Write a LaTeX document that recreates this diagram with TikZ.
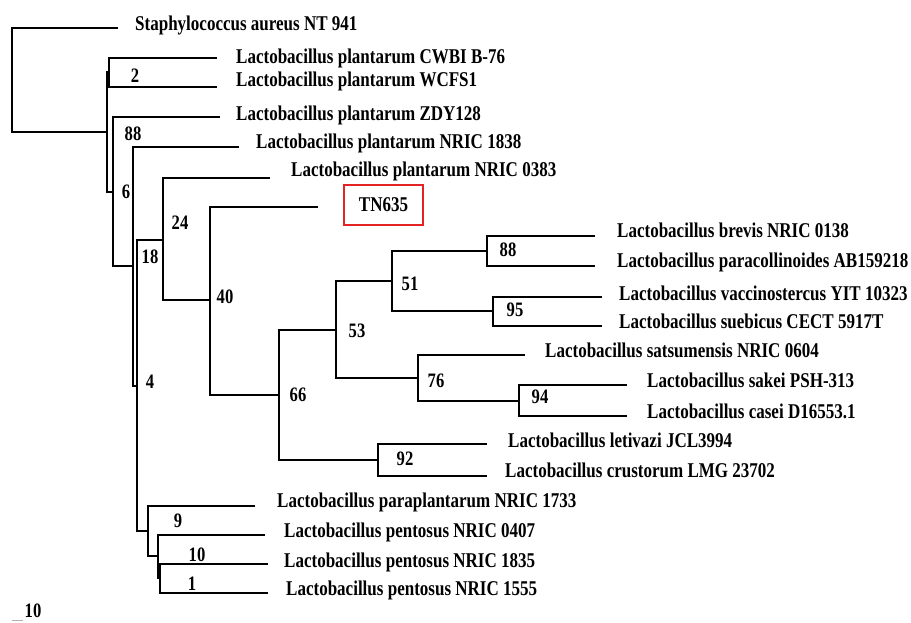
\documentclass[tikz,border=0pt]{standalone}
\usepackage{fontspec}
\setmainfont[FakeStretch=0.81]{Liberation Serif}
\definecolor{boxred}{RGB}{228,36,36}
\begin{document}
\begin{tikzpicture}[x=1pt,y=-1pt,
  br/.style={line width=2.5pt},
  thinbr/.style={line width=1.6pt},
  leaf/.style={anchor=base west, inner sep=0pt, font=\fontsize{21}{24}\selectfont\bfseries},
  boot/.style={inner sep=0pt, font=\fontsize{20.5}{22}\selectfont\bfseries},
  redbox/.style={draw=boxred, line width=2pt, minimum width=79pt, minimum height=40pt, inner sep=0pt, font=\fontsize{21}{24}\selectfont\bfseries}]
\useasboundingbox (0,0) rectangle (911,622);
% internal nodes
\coordinate (R0) at (12,80);
\coordinate (A) at (107,132);
\coordinate (B) at (109,72);
\coordinate (C) at (113,192);
\coordinate (D) at (133,266);
\coordinate (E) at (137,386);
\coordinate (F) at (163,240);
\coordinate (H) at (210,300);
\coordinate (I) at (279,395);
\coordinate (J) at (336,330);
\coordinate (L) at (392,281);
\coordinate (M) at (418,378);
\coordinate (N) at (487,251);
\coordinate (O) at (493,311);
\coordinate (P) at (519,401);
\coordinate (K) at (378,460);
\coordinate (G) at (148,531);
\coordinate (Q) at (158,556);
\coordinate (R) at (160,578);
% leaf ends
\coordinate (staph) at (118,28);
\coordinate (cwbi) at (217,58);
\coordinate (wcfs) at (217,87);
\coordinate (zdy) at (220,117);
\coordinate (n1838) at (239,147);
\coordinate (n0383) at (270,178);
\coordinate (tn) at (318,207);
\coordinate (brevis) at (595,236);
\coordinate (paracoll) at (595,266);
\coordinate (vacc) at (602,297);
\coordinate (sueb) at (602,326);
\coordinate (sats) at (525,355);
\coordinate (sakei) at (627,385);
\coordinate (casei) at (627,416);
\coordinate (letiv) at (487,444);
\coordinate (crust) at (487,476);
\coordinate (parapl) at (255,506);
\coordinate (p0407) at (265,535);
\coordinate (p1835) at (268,564);
\coordinate (p1555) at (268,593);
% branches
\draw[br] (staph) -| (R0) |- (A);
\draw[br] (B) -| (A) |- (C);
\draw[br] (cwbi) -| (B) |- (wcfs);
\draw[br] (zdy) -| (C) |- (D);
\draw[br] (n1838) -| (D) |- (E);
\draw[br] (F) -| (E) |- (G);
\draw[br] (n0383) -| (F) |- (H);
\draw[thinbr] (tn) -| (H);
\draw[br] (H) |- (I);
\draw[br] (J) -| (I) |- (K);
\draw[br] (L) -| (J) |- (M);
\draw[br] (N) -| (L) |- (O);
\draw[br] (brevis) -| (N) |- (paracoll);
\draw[br] (vacc) -| (O) |- (sueb);
\draw[br] (sats) -| (M);
\draw[thinbr] (M) |- (P);
\draw[br] (sakei) -| (P) |- (casei);
\draw[br] (letiv) -| (K) |- (crust);
\draw[br] (parapl) -| (G) |- (Q);
\draw[br] (p0407) -| (Q) |- (R);
\draw[br] (p1835) -| (R) |- (p1555);
% leaf labels
\node[leaf] (tstaph) at (135,30) {Staphylococcus aureus NT 941};
\node[leaf] (tcwbi) at (236,63) {Lactobacillus plantarum CWBI B-76};
\node[leaf] (twcfs) at (236,86) {Lactobacillus plantarum WCFS1};
\node[leaf] (tzdy) at (236,120) {Lactobacillus plantarum ZDY128};
\node[leaf] (t1838) at (256,148) {Lactobacillus plantarum NRIC 1838};
\node[leaf] (t0383) at (291,176) {Lactobacillus plantarum NRIC 0383};
\node[redbox] (ttn) at (383.5,205) {TN635};
\node[leaf] (tbrevis) at (617,237) {Lactobacillus brevis NRIC 0138};
\node[leaf] (tparacoll) at (617,267) {Lactobacillus paracollinoides AB159218};
\node[leaf] (tvacc) at (619,300) {Lactobacillus vaccinostercus YIT 10323};
\node[leaf] (tsueb) at (619,328) {Lactobacillus suebicus CECT 5917T};
\node[leaf] (tsats) at (545,357) {Lactobacillus satsumensis NRIC 0604};
\node[leaf] (tsakei) at (647,387) {Lactobacillus sakei PSH-313};
\node[leaf] (tcasei) at (647,418) {Lactobacillus casei D16553.1};
\node[leaf] (tletiv) at (508,447) {Lactobacillus letivazi JCL3994};
\node[leaf] (tcrust) at (505,477) {Lactobacillus crustorum LMG 23702};
\node[leaf] (tparapl) at (277,507) {Lactobacillus paraplantarum NRIC 1733};
\node[leaf] (t0407) at (284,537) {Lactobacillus pentosus NRIC 0407};
\node[leaf] (t1835) at (284,567) {Lactobacillus pentosus NRIC 1835};
\node[leaf] (t1555) at (286,595) {Lactobacillus pentosus NRIC 1555};
% bootstrap values
\node[boot] (b2) at (135,76) {2};
\node[boot] (b88a) at (133,134) {88};
\node[boot] (b6) at (126,192) {6};
\node[boot] (b24) at (180,223) {24};
\node[boot] (b18) at (150,257) {18};
\node[boot] (b40) at (225,297) {40};
\node[boot] (b4) at (150,382) {4};
\node[boot] (b66) at (298,395) {66};
\node[boot] (b53) at (357,331) {53};
\node[boot] (b51) at (410,284) {51};
\node[boot] (b88b) at (508,250) {88};
\node[boot] (b95) at (515,310) {95};
\node[boot] (b76) at (436,381) {76};
\node[boot] (b94) at (540,397) {94};
\node[boot] (b92) at (405,459) {92};
\node[boot] (b9) at (178,521) {9};
\node[boot] (b10) at (197,555) {10};
\node[boot] (b1) at (192,584) {1};
% scale bar
\coordinate (s1) at (12,620.5);
\coordinate (s2) at (23,620.5);
\draw[line width=1.5pt, gray!60] (s1) -- (s2);
\node[boot] (scale) at (33,611) {10};
\end{tikzpicture}
\end{document}
